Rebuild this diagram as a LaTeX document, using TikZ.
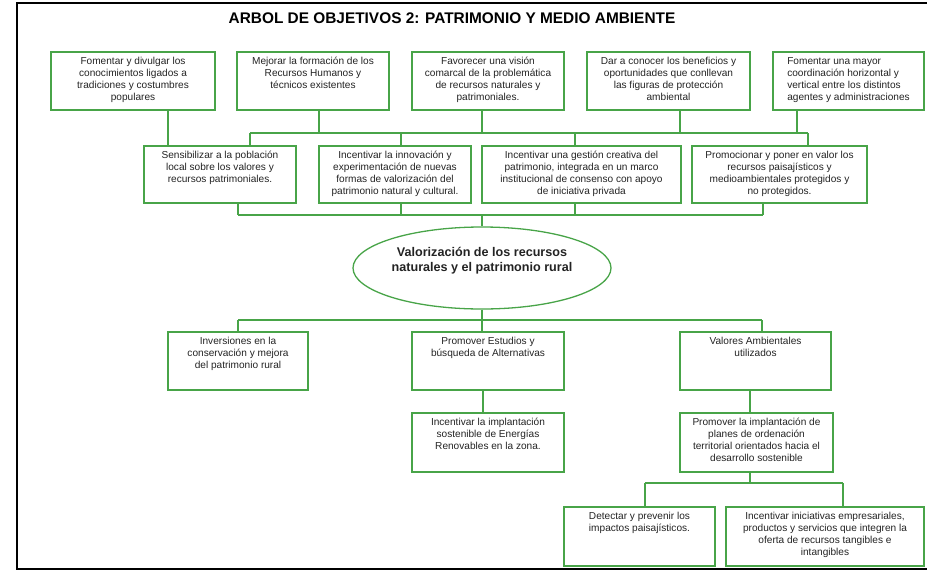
\documentclass[tikz,border=0pt]{standalone}
\usepackage{fontspec}
\setmainfont{Liberation Sans}
\usetikzlibrary{fit,calc,shapes.geometric}
\definecolor{treegreen}{RGB}{72,164,72}
\definecolor{txt}{RGB}{35,35,35}
\tikzset{
  gbox/.style={draw=treegreen, line width=1.3pt, inner sep=0pt},
  btext/.style={font=\fontsize{10.1}{12}\selectfont, text=txt, inner sep=0pt, align=#1},
  btext/.default=center,
  conn/.style={draw=treegreen, line width=1.3pt},
}
\newcommand\gb[7][center]{%
  \coordinate (#2-nw) at (#3,#4);
  \coordinate (#2-se) at (#5,#6);
  \node[gbox, fit=(#2-nw)(#2-se)] (#2) {};
  \node[btext=#1, anchor=north] (#2-t) at ([yshift=-5.5pt]#2.north) {#7};
}
\begin{document}
\begin{tikzpicture}[x=1pt, y=-1pt]
\useasboundingbox (0,0) rectangle (927,571);
% frame
\draw[line width=1.6pt, black] (927,3) -- (17,3) -- (17,569) -- (927,569);
% title
\node[font=\bfseries\fontsize{15.4}{17}\selectfont, text=black] (title) at (452,18.5)
  {ARBOL DE OBJETIVOS 2: PATRIMONIO Y MEDIO AMBIENTE};
% top row
\gb{b1}{51}{52}{215}{110}{Fomentar y divulgar los\\conocimientos ligados a\\tradiciones y costumbres\\populares}
\gb{b2}{237}{52}{389}{110}{Mejorar la formación de los\\Recursos Humanos y\\técnicos existentes}
\gb{b3}{412}{52}{564}{110}{Favorecer una visión\\comarcal de la problemática\\de recursos naturales y\\patrimoniales.}
\gb{b4}{587}{52}{750}{110}{Dar a conocer los beneficios y\\oportunidades que conllevan\\las figuras de protección\\ambiental}
\gb[left]{b5}{773}{52}{924}{110}{Fomentar una mayor\\coordinación horizontal y\\vertical entre los distintos\\agentes y administraciones}
% second row
\gb{b6}{144}{146}{296}{203}{Sensibilizar a la población\\local sobre los valores y\\recursos patrimoniales.}
\gb{b7}{319}{146}{471}{203}{Incentivar la innovación y\\experimentación de nuevas\\formas de valorización del\\patrimonio natural y cultural.}
\gb{b8}{482}{146}{681}{203}{Incentivar una gestión creativa del\\patrimonio, integrada en un marco\\institucional de consenso con apoyo\\de iniciativa privada}
\gb{b9}{692}{146}{867}{203}{Promocionar y poner en valor los\\recursos paisajísticos y\\medioambientales protegidos y\\no protegidos.}
% ellipse
\node[ellipse, draw=treegreen, line width=1.3pt, minimum width=258pt, minimum height=82pt, inner sep=0pt] (ell) at (482,268) {};
\node[font=\bfseries\fontsize{12.6}{15}\selectfont, text=txt, align=center] (ell-t) at (482,260.5)
  {Valorización de los recursos\\naturales y el patrimonio rural};
% lower rows
\gb{b10}{168}{332}{308}{390}{Inversiones en la\\conservación y mejora\\del patrimonio rural}
\gb{b11}{412}{332}{564}{390}{Promover Estudios y\\búsqueda de Alternativas}
\gb{b12}{680}{332}{831}{390}{Valores Ambientales\\utilizados}
\gb{b13}{412}{413}{564}{472}{Incentivar la implantación\\sostenible de Energías\\Renovables en la zona.}
\gb{b14}{680}{413}{833}{472}{Promover la implantación de\\planes de ordenación\\territorial orientados hacia el\\desarrollo sostenible}
\gb{b15}{564}{507}{715}{566}{Detectar y prevenir los\\impactos paisajísticos.}
\gb{b16}{726}{507}{924}{566}{Incentivar iniciativas empresariales,\\productos y servicios que integren la\\oferta de recursos tangibles e\\intangibles}
% bus coordinates
\coordinate (busAL) at (250,133);
\coordinate (busAR) at (808,133);
\coordinate (busBL) at (238,215);
\coordinate (busBR) at (763,215);
\coordinate (busCL) at (238,320);
\coordinate (busCR) at (762,320);
\coordinate (busDL) at (645,483);
\coordinate (busDR) at (843,483);
% connectors: top
\draw[conn] (b1.south -| 168,0) -- (b6.north -| 168,0);
\draw[conn] (busAL) -- (busAR);
\draw[conn] (b2.south -| 319,0) -- (busAL -| 319,0);
\draw[conn] (b3.south -| 482,0) -- (busAL -| 482,0);
\draw[conn] (b4.south -| 680,0) -- (busAL -| 680,0);
\draw[conn] (b5.south -| 797,0) -- (busAL -| 797,0);
\draw[conn] (busAL) -- (b6.north -| busAL);
\draw[conn] (busAL -| 401,0) -- (b7.north -| 401,0);
\draw[conn] (busAL -| 575,0) -- (b8.north -| 575,0);
\draw[conn] (busAR) -- (b9.north -| busAR);
% second bus
\draw[conn] (busBL) -- (busBR);
\draw[conn] (b6.south -| busBL) -- (busBL);
\draw[conn] (b7.south -| 401,0) -- (busBL -| 401,0);
\draw[conn] (b8.south -| 575,0) -- (busBL -| 575,0);
\draw[conn] (b9.south -| busBR) -- (busBR);
\draw[conn] (busBL -| ell.north) -- (ell.north);
% third bus
\draw[conn] (busCL) -- (busCR);
\draw[conn] (ell.south) -- (b11.north -| ell.south);
\draw[conn] (busCL) -- (b10.north -| busCL);
\draw[conn] (busCR) -- (b12.north -| busCR);
% lower
\draw[conn] (b11.south -| 483,0) -- (b13.north -| 483,0);
\draw[conn] (b12.south -| 750,0) -- (b14.north -| 750,0);
\draw[conn] (b14.south -| 750,0) -- (busDL -| 750,0);
\draw[conn] (busDL) -- (busDR);
\draw[conn] (busDL) -- (b15.north -| busDL);
\draw[conn] (busDR) -- (b16.north -| busDR);
\end{tikzpicture}
\end{document}
